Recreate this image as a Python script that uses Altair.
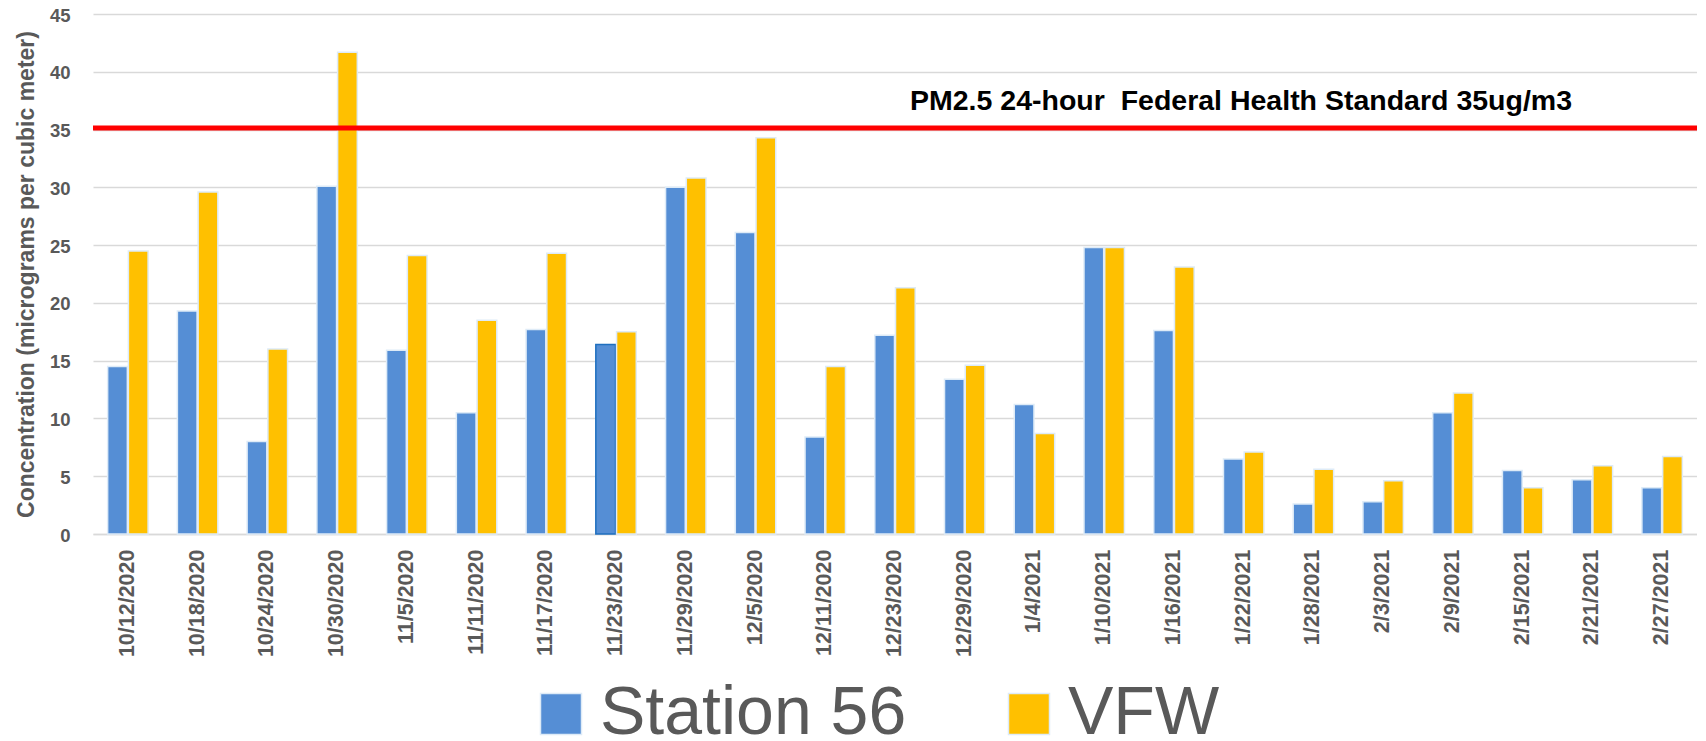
import altair as alt
import pandas as pd

dates = ["10/12/2020", "10/18/2020", "10/24/2020", "10/30/2020", "11/5/2020",
         "11/11/2020", "11/17/2020", "11/23/2020", "11/29/2020", "12/5/2020",
         "12/11/2020", "12/23/2020", "12/29/2020", "1/4/2021", "1/10/2021",
         "1/16/2021", "1/22/2021", "1/28/2021", "2/3/2021", "2/9/2021",
         "2/15/2021", "2/21/2021", "2/27/2021"]
station56 = [14.5, 19.3, 8.0, 30.1, 15.9, 10.5, 17.7, 16.4, 30.0, 26.1, 8.4, 17.2,
             13.4, 11.2, 24.8, 17.6, 6.5, 2.6, 2.8, 10.5, 5.5, 4.7, 4.0]
vfw = [24.5, 29.6, 16.0, 41.7, 24.1, 18.5, 24.3, 17.5, 30.8, 34.3, 14.5, 21.3,
       14.6, 8.7, 24.8, 23.1, 7.1, 5.6, 4.6, 12.2, 4.0, 5.9, 6.7]
series = ["Station 56", "VFW"]
colors = ["#558ED5", "#FFC000"]
y_ticks = [0, 5, 10, 15, 20, 25, 30, 35, 40, 45]
standard_value = 35.13
standard_label = "PM2.5 24-hour \u00a0Federal Health Standard 35ug/m3"
highlighted_date = "11/23/2020"

rows = []
for d, a, b in zip(dates, station56, vfw):
    rows.append({"date": d, "series": series[0], "value": a})
    rows.append({"date": d, "series": series[1], "value": b})
df = pd.DataFrame(rows)

FONT = "Liberation Sans"
GRAY = "#595959"

bars = alt.Chart(df).mark_bar(strokeWidth=1.5).encode(
    x=alt.X("date:N", sort=dates,
            scale=alt.Scale(paddingInner=0.42, paddingOuter=0.21),
            axis=alt.Axis(title=None, labelAngle=-90, labelFont=FONT, labelFontSize=21.5,
                          labelFontWeight="bold", labelColor=GRAY, labelPadding=15,
                          ticks=False, domain=True, domainColor="#D9D9D9", domainWidth=1.5,
                          grid=False, labelOverlap=False)),
    xOffset=alt.XOffset("series:N", sort=series, scale=alt.Scale(paddingInner=0.05)),
    y=alt.Y("value:Q", scale=alt.Scale(domain=[0, 45], nice=False),
            axis=alt.Axis(values=y_ticks, title="Concentration (micrograms per cubic meter)",
                          titleFont=FONT, titleFontSize=23, titleFontWeight="bold",
                          titleColor=GRAY, titlePadding=11, titleLimit=1000,
                          labelFont=FONT, labelFontSize=18.5, labelFontWeight="bold",
                          labelColor=GRAY, labelPadding=23, labelFlush=False,
                          labelOffset=1,
                          ticks=False, domain=False, grid=True, gridColor="#D9D9D9",
                          gridWidth=1.5)),
    color=alt.Color("series:N", scale=alt.Scale(domain=series, range=colors),
                    legend=alt.Legend(title=None, orient="none", legendX=434, legendY=666,
                                      direction="horizontal", labelFont=FONT,
                                      labelFontSize=68, labelColor=GRAY, labelLimit=1000,
                                      symbolType="square", symbolSize=1681,
                                      symbolStrokeColor="#DEEBF7", symbolStrokeWidth=1.5,
                                      labelOffset=5, columnPadding=88, padding=0)),
    stroke=alt.condition(
        (alt.datum.date == highlighted_date) & (alt.datum.series == series[0]),
        alt.value("#1F6FBF"), alt.value("#DEEBF7")),
)

rule = alt.Chart(pd.DataFrame({"v": [standard_value]})).mark_rule(
    color="#FF0000", strokeWidth=5).encode(y="v:Q")

text = alt.Chart(pd.DataFrame({"label": [standard_label]})).mark_text(
    align="left", baseline="alphabetic", dy=-18, font=FONT, fontSize=28.5,
    fontWeight="bold", color="#000000").encode(
    x=alt.value(817), y=alt.datum(standard_value), text="label:N")

chart = alt.layer(bars, rule, text).properties(
    width=1604, height=520,
    padding={"left": 85, "top": 6, "right": 0, "bottom": 206},
    autosize=alt.AutoSizeParams(type="none"),
).configure_view(stroke=None)

chart.save("out.html", embed_options={"renderer": "svg", "actions": False})
